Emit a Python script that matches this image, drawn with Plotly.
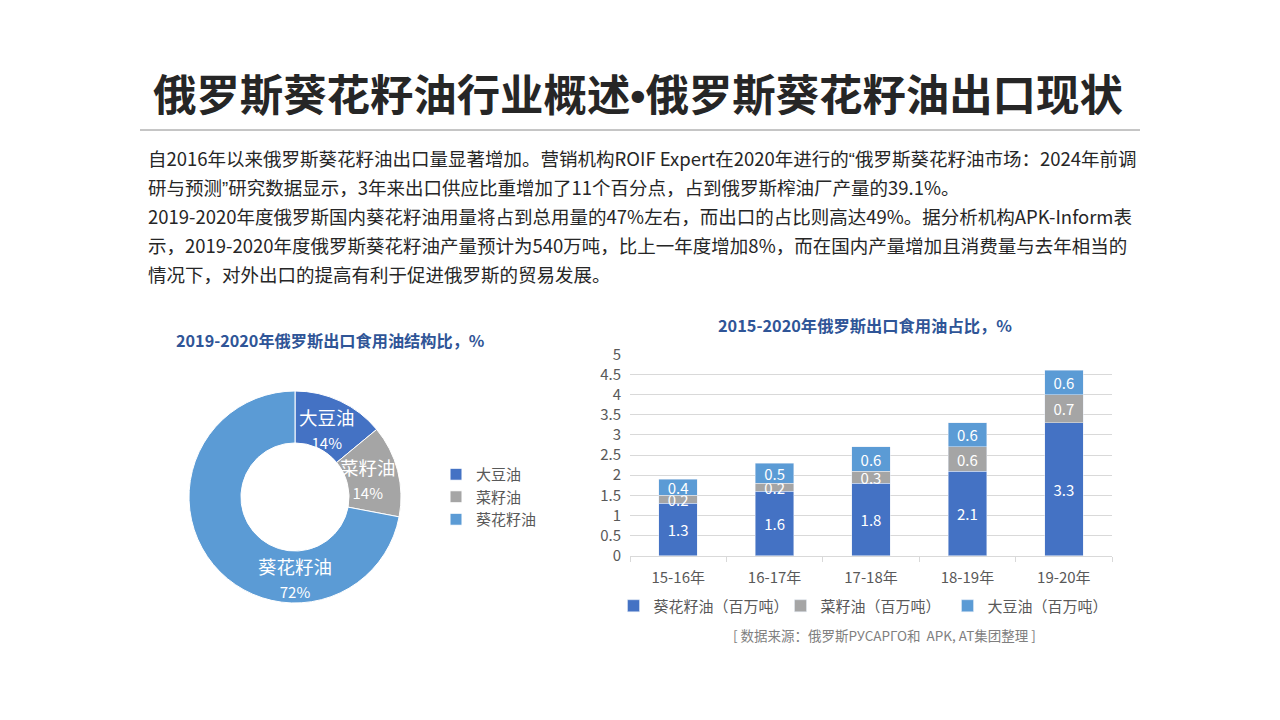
import math
import plotly.graph_objects as go

# ---- data ----
title_text = "俄罗斯葵花籽油行业概述•俄罗斯葵花籽油出口现状"
paragraph_lines = [
    "自2016年以来俄罗斯葵花籽油出口量显著增加。营销机构ROIF Expert在2020年进行的“俄罗斯葵花籽油市场：2024年前调",
    "研与预测”研究数据显示，3年来出口供应比重增加了11个百分点，占到俄罗斯榨油厂产量的39.1%。",
    "2019-2020年度俄罗斯国内葵花籽油用量将占到总用量的47%左右，而出口的占比则高达49%。据分析机构APK-Inform表",
    "示，2019-2020年度俄罗斯葵花籽油产量预计为540万吨，比上一年度增加8%，而在国内产量增加且消费量与去年相当的",
    "情况下，对外出口的提高有利于促进俄罗斯的贸易发展。",
]

pie_title = "2019-2020年俄罗斯出口食用油结构比，%"
pie_labels = ["大豆油", "菜籽油", "葵花籽油"]
pie_values = [14, 14, 72]

bar_title = "2015-2020年俄罗斯出口食用油占比，%"
categories = ["15-16年", "16-17年", "17-18年", "18-19年", "19-20年"]
sunflower = [1.3, 1.6, 1.8, 2.1, 3.3]
rapeseed = [0.2, 0.2, 0.3, 0.6, 0.7]
soybean = [0.4, 0.5, 0.6, 0.6, 0.6]
series_names = ["葵花籽油（百万吨）", "菜籽油（百万吨）", "大豆油（百万吨）"]
source_text = "[ 数据来源：俄罗斯РУСАРГО和  APK, AT集团整理 ]"

# ---- styles / geometry ----
FONT = "Noto Sans CJK SC"
LATIN = "Liberation Sans"
DARK_BLUE = "#4472C4"
GRAY = "#A5A5A5"
LIGHT_BLUE = "#5B9BD5"
TITLE_BLUE = "#2F5597"
TICK_GRAY = "#595959"

OFF = 8            # page body margin
W, H = 1280 - OFF, 720 - OFF


def px(x):
    return (x - OFF) / W


def py(y):
    return 1 - (y - OFF) / H


def narrow_punct(s):
    for ch in ["•", "“", "”"]:
        s = s.replace(ch, f"<span style='font-family:{LATIN}'>{ch}</span>")
    return s


PIE_CX, PIE_CY, PIE_R = 295, 497, 106

fig = go.Figure()

# donut (slice labels drawn as annotations to keep full text size)
fig.add_trace(go.Pie(
    labels=pie_labels, values=pie_values,
    sort=False, direction="clockwise", rotation=0,
    hole=0.51,
    marker=dict(colors=[DARK_BLUE, GRAY, LIGHT_BLUE], line=dict(color="white", width=1)),
    textinfo="none",
    domain=dict(x=[px(PIE_CX - PIE_R), px(PIE_CX + PIE_R)], y=[py(PIE_CY + PIE_R), py(PIE_CY - PIE_R)]),
    legend="legend2", showlegend=True,
))

# stacked bars
for name, vals, col in zip(series_names, [sunflower, rapeseed, soybean], [DARK_BLUE, GRAY, LIGHT_BLUE]):
    fig.add_trace(go.Bar(
        x=categories, y=vals, name=name, marker_color=col, width=0.4,
        text=vals, texttemplate="%{y}", textposition="inside", textangle=0,
        insidetextanchor="middle", constraintext="none",
        textfont=dict(color="white", size=15, family=FONT),
        legend="legend",
    ))

fig.update_layout(
    width=W, height=H,
    margin=dict(l=0, r=0, t=0, b=0),
    paper_bgcolor="white", plot_bgcolor="white",
    font=dict(family=FONT, color=TICK_GRAY),
    barmode="stack",
    xaxis=dict(domain=[px(630), px(1112)], showline=True, linecolor="#D9D9D9",
               ticks="outside", tickson="boundaries", ticklen=5, tickcolor="#D9D9D9",
               tickfont=dict(size=15, color=TICK_GRAY), automargin=False, ticklabelstandoff=8),
    yaxis=dict(domain=[py(555.7), py(354.3)], range=[0, 5], dtick=0.5,
               gridcolor="#D9D9D9", zeroline=False, showline=False,
               tickfont=dict(size=15, color=TICK_GRAY), automargin=False, ticklabelstandoff=8),
    legend=dict(orientation="h", x=px(864), xanchor="center", y=py(606), yanchor="middle",
                font=dict(size=15, color=TICK_GRAY), traceorder="normal", bgcolor="rgba(0,0,0,0)",
                entrywidth=122, entrywidthmode="pixels"),
    legend2=dict(orientation="v", x=px(436), xanchor="left", y=py(497), yanchor="middle",
                 font=dict(size=15, color=TICK_GRAY), bgcolor="rgba(0,0,0,0)", tracegroupgap=0),
    showlegend=True,
)

annotations = []
annotations.append(dict(text="<b>" + narrow_punct(title_text) + "</b>", x=px(638), y=py(92),
                        xref="paper", yref="paper", xanchor="center", yanchor="middle", showarrow=False,
                        font=dict(size=43.4, color="#262626", family=FONT)))
line_ys = [158, 187, 216, 245, 274]
for t, yy in zip(paragraph_lines, line_ys):
    annotations.append(dict(text=narrow_punct(t), x=px(146), y=py(yy), xref="paper", yref="paper",
                            xanchor="left", yanchor="middle", showarrow=False,
                            font=dict(size=18.5, color="#262626", family=FONT)))
annotations.append(dict(text="<b>" + pie_title + "</b>", x=px(330), y=py(340), xref="paper", yref="paper",
                        xanchor="center", yanchor="middle", showarrow=False,
                        font=dict(size=16.2, color=TITLE_BLUE, family=FONT)))
annotations.append(dict(text="<b>" + bar_title + "</b>", x=px(865), y=py(325), xref="paper", yref="paper",
                        xanchor="center", yanchor="middle", showarrow=False,
                        font=dict(size=16.3, color=TITLE_BLUE, family=FONT)))
annotations.append(dict(text=source_text, x=px(884), y=py(635), xref="paper", yref="paper",
                        xanchor="center", yanchor="middle", showarrow=False,
                        font=dict(size=13.5, color="#7F7F7F", family=FONT)))

# donut slice labels: small slices at their mid-angle, the large slice at the bottom of the ring
total = sum(pie_values)
cum = 0
for lab, v in zip(pie_labels, pie_values):
    start = cum / total * 2 * math.pi
    end = (cum + v) / total * 2 * math.pi
    cum += v
    mid = (start + end) / 2
    ang = math.pi if (end - start) > math.pi and start < math.pi < end else mid
    r = (0.76 if ang == math.pi else 0.71) * PIE_R
    lx = PIE_CX + r * math.sin(ang)
    ly = PIE_CY - r * math.cos(ang)
    annotations.append(dict(text=f"<span style='font-size:18.5px'>{lab}</span><br><span style='font-size:15px'>{v}%</span>",
                            x=px(lx), y=py(ly), xref="paper", yref="paper",
                            xanchor="center", yanchor="middle", showarrow=False,
                            font=dict(size=18.5, color="white", family=FONT)))
fig.update_layout(annotations=annotations)

fig.add_shape(type="line", xref="paper", yref="paper", x0=px(140), x1=px(1140),
              y0=py(130), y1=py(130), line=dict(color="#8C8C8C", width=1))

fig.write_html("out.html")
